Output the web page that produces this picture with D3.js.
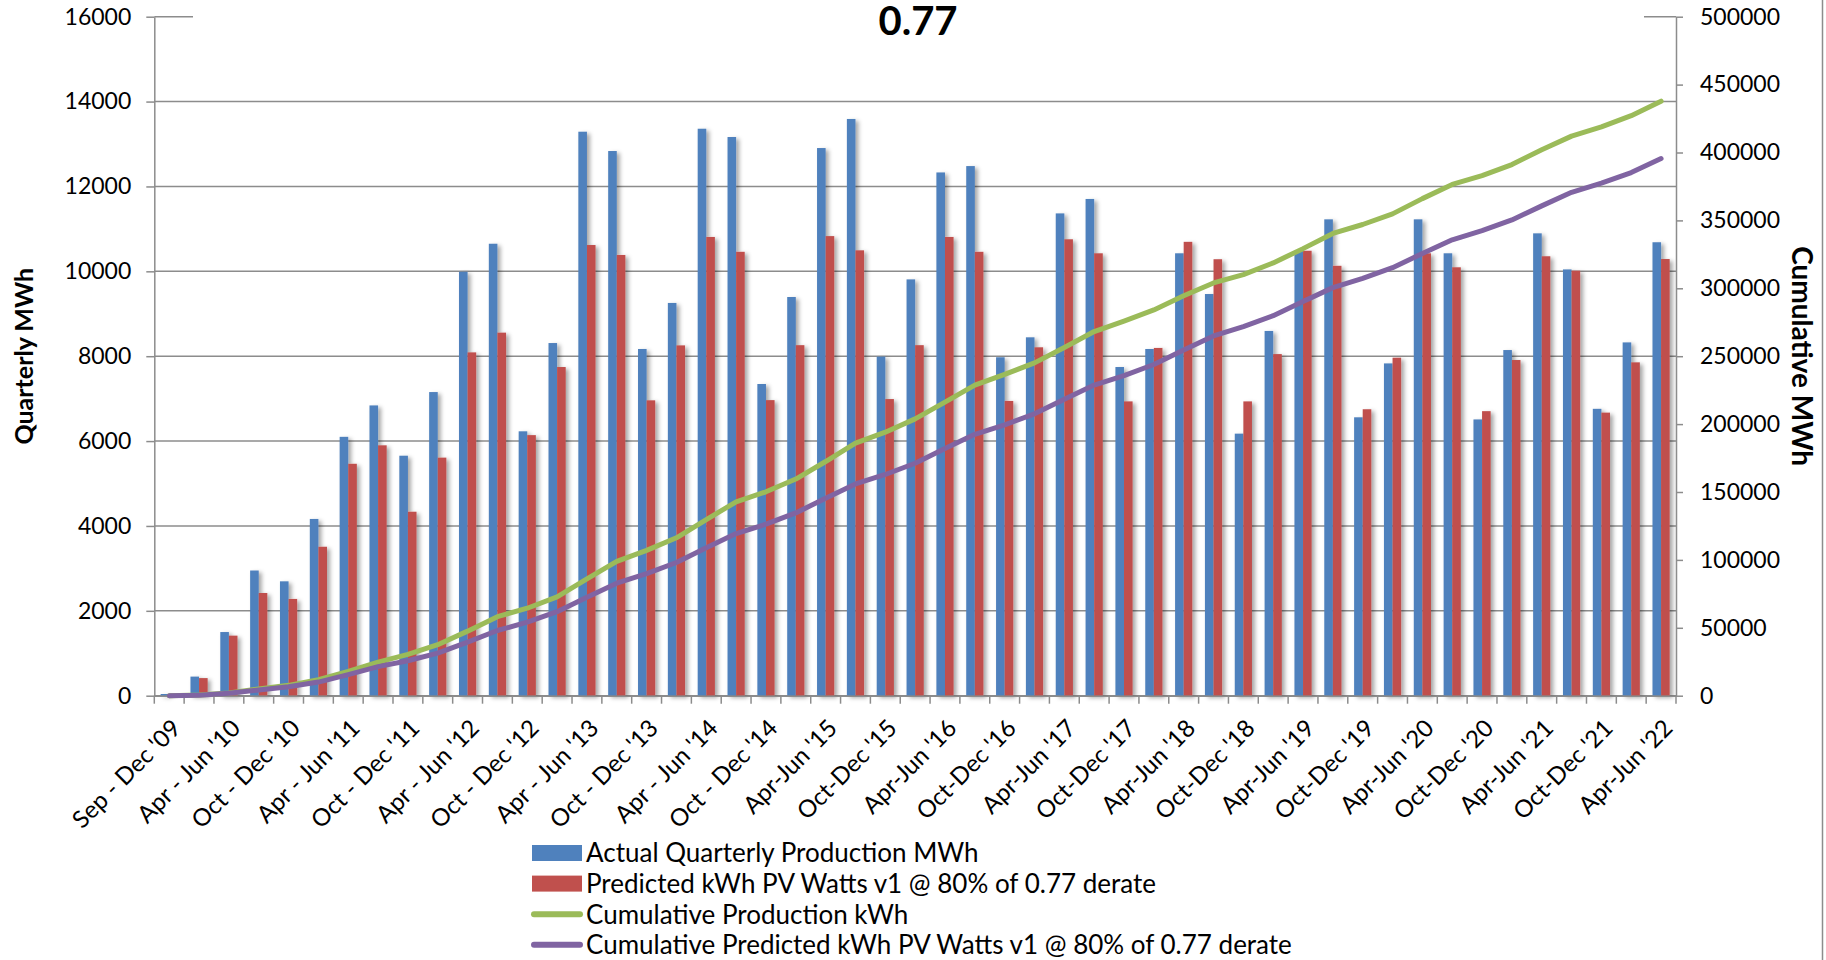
<!DOCTYPE html>
<html>
<head>
<meta charset="utf-8">
<script src="https://cdn.jsdelivr.net/npm/d3@7"></script>
<style>
  body { margin: 0; background: #fff; }
  svg text { font-family: Lato, "Open Sans", sans-serif; fill: #000; }
</style>
</head>
<body>
<div id="chart"></div>
<script>
// Quarters (only every other one is labelled on the axis)
const quarters = [
  "Sep - Dec '09",
  "Jan - Mar '10", "Apr - Jun '10", "Jul - Sep '10", "Oct - Dec '10",
  "Jan - Mar '11", "Apr - Jun '11", "Jul - Sep '11", "Oct - Dec '11",
  "Jan - Mar '12", "Apr - Jun '12", "Jul - Sep '12", "Oct - Dec '12",
  "Jan - Mar '13", "Apr - Jun '13", "Jul - Sep '13", "Oct - Dec '13",
  "Jan - Mar '14", "Apr - Jun '14", "Jul - Sep '14", "Oct - Dec '14",
  "Jan-Mar '15", "Apr-Jun '15", "Jul-Sep '15", "Oct-Dec '15",
  "Jan-Mar '16", "Apr-Jun '16", "Jul-Sep '16", "Oct-Dec '16",
  "Jan-Mar '17", "Apr-Jun '17", "Jul-Sep '17", "Oct-Dec '17",
  "Jan-Mar '18", "Apr-Jun '18", "Jul-Sep '18", "Oct-Dec '18",
  "Jan-Mar '19", "Apr-Jun '19", "Jul-Sep '19", "Oct-Dec '19",
  "Jan-Mar '20", "Apr-Jun '20", "Jul-Sep '20", "Oct-Dec '20",
  "Jan-Mar '21", "Apr-Jun '21", "Jul-Sep '21", "Oct-Dec '21",
  "Jan-Mar '22", "Apr-Jun '22"
];

// Quarterly values (MWh), left axis
const actualMWh = [
  40, 450, 1500, 2950, 2695, 4165, 6100, 6840, 5655, 7155,
  9990, 10650, 6230, 8310, 13290, 12835, 8170, 9255, 13360, 13165,
  7345, 9395, 12905, 13590, 7990, 9810, 12330, 12480, 7975, 8445,
  11365, 11705, 7745, 8170, 10425, 9465, 6175, 8595, 10485, 11225,
  6560, 7830, 11225, 10425, 6510, 8145, 10895, 10045, 6760, 8325,
  10685
];
const predictedMWh = [
  0, 415, 1415, 2420, 2280, 3510, 5465, 5900, 4335, 5610,
  8090, 8555, 6140, 7745, 10620, 10385, 6960, 8255, 10810, 10460,
  6965, 8260, 10830, 10495, 6990, 8260, 10810, 10460, 6945, 8210,
  10755, 10425, 6935, 8195, 10695, 10285, 6935, 8050, 10485, 10130,
  6750, 7965, 10425, 10095, 6705, 7910, 10355, 10015, 6670, 7855,
  10290
];

// Cumulative values, right axis
const cumulativeActual = [
  40, 490, 1990, 4940, 7635, 11800, 17900, 24740, 30395, 37550,
  47540, 58190, 64420, 72730, 86020, 98855, 107025, 116280, 129640, 142805,
  150150, 159545, 172450, 186040, 194030, 203840, 216170, 228650, 236625, 245070,
  256435, 268140, 275885, 284055, 294480, 303945, 310120, 318715, 329200, 340425,
  346985, 354815, 366040, 376465, 382975, 391120, 402015, 412060, 418820, 427145,
  437830
];
const cumulativePredicted = [
  0, 415, 1830, 4250, 6530, 10040, 15505, 21405, 25740, 31350,
  39440, 47995, 54135, 61880, 72500, 82885, 89845, 98100, 108910, 119370,
  126335, 134595, 145425, 155920, 162910, 171170, 181980, 192440, 199385, 207595,
  218350, 228775, 235710, 243905, 254600, 264885, 271820, 279870, 290355, 300485,
  307235, 315200, 325625, 335720, 342425, 350335, 360690, 370705, 377375, 385230,
  395520
];

const leftTicks = [0, 2000, 4000, 6000, 8000, 10000, 12000, 14000, 16000];
const rightTicks = [0, 50000, 100000, 150000, 200000, 250000, 300000, 350000, 400000, 450000, 500000];

const legendLabels = [
  "Actual Quarterly Production MWh",
  "Predicted kWh PV Watts v1 @ 80% of 0.77 derate",
  "Cumulative Production kWh",
  "Cumulative Predicted kWh PV Watts v1 @ 80% of 0.77 derate"
];

const chartTitle = "0.77";

// Colours (Excel 2007 palette)
const blue = "#4f81bd";
const red = "#c0504d";
const green = "#9bbb59";
const purple = "#8064a2";
const axisGrey = "#8c8c8c";

// Plot area
const plotLeft = 154.3, plotRight = 1676, plotTop = 16.7, plotBottom = 695.7;

const svg = d3
  .select("#chart")
  .append("svg")
  .attr("width", 1826)
  .attr("height", 960);

// Soft shadow behind the bars
const defs = svg.append("defs");
const shadow = defs.append("filter").attr("id", "barShadow")
  .attr("x", "-50%").attr("y", "-10%").attr("width", "250%").attr("height", "130%");
shadow.append("feDropShadow")
  .attr("dx", 3).attr("dy", 2)
  .attr("stdDeviation", 2)
  .attr("flood-color", "#000")
  .attr("flood-opacity", 0.35);

// Scales
const x = d3.scaleBand().domain(quarters).range([plotLeft, plotRight]).padding(0);
const x1 = d3.scaleBand().domain(["actual", "predicted"]).range([0, x.bandwidth()])
  .paddingInner(0).paddingOuter(0.735);
const yLeft = d3.scaleLinear().domain([0, 16000]).range([plotBottom, plotTop]);
const yRight = d3.scaleLinear().domain([0, 500000]).range([plotBottom, plotTop]);

// Gridlines (left axis values)
svg.append("g")
  .selectAll("line")
  .data(leftTicks)
  .enter()
  .append("line")
  .attr("x1", plotLeft)
  .attr("x2", plotRight)
  .attr("y1", (d) => yLeft(d))
  .attr("y2", (d) => yLeft(d))
  .attr("stroke", axisGrey)
  .attr("stroke-width", 1.5);

// Bars
const barGroup = svg.append("g").attr("filter", "url(#barShadow)");
barGroup.selectAll(".bar-actual")
  .data(actualMWh)
  .enter()
  .append("rect")
  .attr("class", "bar-actual")
  .attr("x", (d, i) => x(quarters[i]) + x1("actual"))
  .attr("y", (d) => yLeft(d))
  .attr("width", x1.bandwidth())
  .attr("height", (d) => plotBottom - yLeft(d))
  .attr("fill", blue);
barGroup.selectAll(".bar-predicted")
  .data(predictedMWh)
  .enter()
  .append("rect")
  .attr("class", "bar-predicted")
  .attr("x", (d, i) => x(quarters[i]) + x1("predicted"))
  .attr("y", (d) => yLeft(d))
  .attr("width", x1.bandwidth())
  .attr("height", (d) => plotBottom - yLeft(d))
  .attr("fill", red);

// Left axis
const leftAxis = svg.append("g")
  .attr("transform", `translate(${plotLeft},0)`)
  .call(d3.axisLeft(yLeft).tickValues(leftTicks).tickFormat(d3.format("d"))
    .tickSize(8).tickSizeOuter(0).tickPadding(15));

// Right axis
const rightAxis = svg.append("g")
  .attr("transform", `translate(${plotRight},0)`)
  .call(d3.axisRight(yRight).tickValues(rightTicks).tickFormat(d3.format("d"))
    .tickSize(7).tickSizeOuter(0).tickPadding(17));

[leftAxis, rightAxis].forEach((g) => {
  g.select(".domain").attr("stroke", axisGrey).attr("stroke-width", 1.5);
  g.selectAll(".tick line").attr("stroke", axisGrey).attr("stroke-width", 1.5);
  g.selectAll(".tick text")
    .style("font-family", "Lato, sans-serif")
    .style("font-size", "23px")
    .attr("fill", "#000");
});

// Bottom axis: labels on every other quarter
const bottomAxis = svg.append("g")
  .attr("transform", `translate(0,${plotBottom})`)
  .call(
    d3.axisBottom(x)
      .tickSize(0)
      .tickSizeOuter(0)
      .tickFormat((d, i) => (i % 2 === 0 ? d : ""))
  );
bottomAxis.select(".domain").attr("stroke", axisGrey).attr("stroke-width", 1.5);
bottomAxis.selectAll(".tick text")
  .attr("x", 0)
  .attr("y", 0)
  .attr("dy", "0.71em")
  .attr("transform", "translate(1,22) rotate(-45)")
  .style("text-anchor", "end")
  .style("font-family", "Lato, sans-serif")
  .style("font-size", "24px")
  .attr("fill", "#000");

// Category boundary tick marks
svg.append("g")
  .selectAll("line")
  .data(quarters.concat(["end"]))
  .enter()
  .append("line")
  .attr("x1", (d, i) => (i < quarters.length ? x(d) : plotRight))
  .attr("x2", (d, i) => (i < quarters.length ? x(d) : plotRight))
  .attr("y1", plotBottom)
  .attr("y2", plotBottom + 8)
  .attr("stroke", axisGrey)
  .attr("stroke-width", 1.5);

// Cumulative lines
const lineRight = d3.line()
  .x((d, i) => x(quarters[i]) + x.bandwidth() / 2)
  .y((d) => yRight(d));

svg.append("path")
  .datum(cumulativeActual)
  .attr("d", lineRight)
  .attr("fill", "none")
  .attr("stroke", green)
  .attr("stroke-width", 5)
  .attr("stroke-linejoin", "round")
  .attr("stroke-linecap", "round");

svg.append("path")
  .datum(cumulativePredicted)
  .attr("d", lineRight)
  .attr("fill", "none")
  .attr("stroke", purple)
  .attr("stroke-width", 5)
  .attr("stroke-linejoin", "round")
  .attr("stroke-linecap", "round");

// Title with white box (hides the top gridline like Excel does)
svg.append("rect")
  .attr("x", 193)
  .attr("y", 0)
  .attr("width", 1644 - 193)
  .attr("height", 42)
  .attr("fill", "#fff");
svg.append("text")
  .attr("x", 918)
  .attr("y", 35)
  .attr("text-anchor", "middle")
  .style("font-size", "40px")
  .style("font-weight", "bold")
  .text(chartTitle);

// Axis titles
svg.append("text")
  .attr("transform", `translate(33,${(plotTop + plotBottom) / 2}) rotate(-90)`)
  .attr("text-anchor", "middle")
  .style("font-size", "25px")
  .style("font-weight", "bold")
  .text("Quarterly MWh");

svg.append("text")
  .attr("transform", `translate(1792,${(plotTop + plotBottom) / 2}) rotate(90)`)
  .attr("text-anchor", "middle")
  .style("font-size", "28px")
  .style("font-weight", "bold")
  .text("Cumulative MWh");

// Legend
const legendColors = [blue, red, green, purple];
const legend = svg.append("g").attr("transform", "translate(532,853)");
legendLabels.forEach((label, i) => {
  const row = legend.append("g").attr("transform", `translate(0,${i * 30.6})`);
  if (i < 2) {
    row.append("rect")
      .attr("x", 0).attr("y", -8)
      .attr("width", 50).attr("height", 16)
      .attr("fill", legendColors[i]);
  } else {
    row.append("line")
      .attr("x1", 2).attr("x2", 48)
      .attr("y1", 0).attr("y2", 0)
      .attr("stroke", legendColors[i])
      .attr("stroke-width", 6)
      .attr("stroke-linecap", "round");
  }
  row.append("text")
    .attr("x", 54)
    .attr("y", 0)
    .attr("dy", "0.36em")
    .style("font-size", "26px")
    .text(label);
});

// Chart area border on the right edge
svg.append("line")
  .attr("x1", 1822.5).attr("x2", 1822.5)
  .attr("y1", 0).attr("y2", 960)
  .attr("stroke", axisGrey)
  .attr("stroke-width", 1.5);
</script>
</body>
</html>
